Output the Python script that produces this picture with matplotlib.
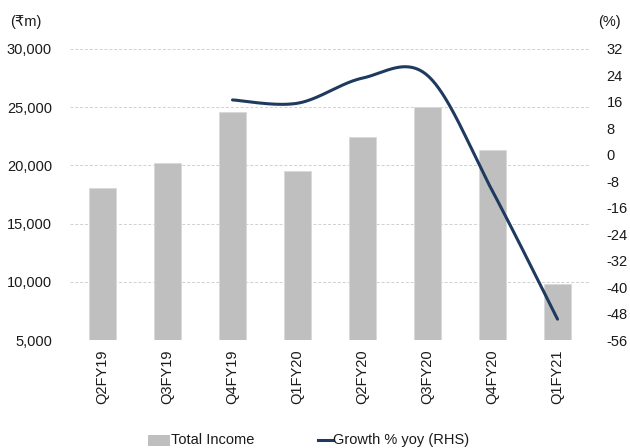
import numpy as np
import matplotlib
matplotlib.use("Agg")
import matplotlib.pyplot as plt
from matplotlib import font_manager
from matplotlib.patches import Rectangle
from matplotlib.lines import Line2D

categories = ["Q2FY19", "Q3FY19", "Q4FY19", "Q1FY20", "Q2FY20", "Q3FY20", "Q4FY20", "Q1FY21"]
total_income = [18100, 20200, 24600, 19500, 22450, 25000, 21300, 9800]
growth_idx = [2, 3, 4, 5, 6, 7]
growth_yoy = [16.6, 15.6, 23.2, 24.0, -11.0, -49.7]
left_ticks = [5000, 10000, 15000, 20000, 25000, 30000]
right_ticks = [32, 24, 16, 8, 0, -8, -16, -24, -32, -40, -48, -56]

names = {f.name for f in font_manager.fontManager.ttflist}
main = "Liberation Sans Narrow" if "Liberation Sans Narrow" in names else "Liberation Sans"
fam = [main, "DejaVu Sans"]
plt.rcParams["font.family"] = fam
plt.rcParams["axes.unicode_minus"] = False

BAR = "#bfbfbf"
LINE = "#1f3a5f"
TXT = "#1a1a1a"
FS = 10.5

fig = plt.figure(figsize=(6.3, 4.48), dpi=100)
ax = fig.add_axes([70/630, 1-340/448, 520/630, 291/448])
ax2 = ax.twinx()

x = np.arange(len(categories))
ax.bar(x, total_income, width=0.42, color=BAR, zorder=2, edgecolor="#d9d9d9", linewidth=0.6)
ax.set_xlim(-0.5, len(categories) - 0.5)
ax.set_ylim(5000, 30000)
ax.set_yticks(left_ticks)
ax.set_yticklabels([f"{v:,}" for v in left_ticks])
ax.grid(axis="y", color="#d0d0d0", linestyle=(0, (3, 2)), linewidth=0.7, zorder=0)
ax.set_axisbelow(True)
ax.set_xticks(x)
ax.set_xticklabels(categories, rotation=90, fontsize=FS, color=TXT)
ax.tick_params(axis="both", length=0, labelsize=FS, colors=TXT)
ax.tick_params(axis="x", pad=7)
ax.tick_params(axis="y", pad=13)

# Excel-style smoothed line (Bezier through the data points)
px = np.array(growth_idx, dtype=float)
py = np.array(growth_yoy, dtype=float)
xs, ys = [], []
n = len(px)
for i in range(n - 1):
    p0 = np.array([px[i], py[i]])
    p3 = np.array([px[i+1], py[i+1]])
    pm = np.array([px[i-1], py[i-1]]) if i > 0 else p0
    pn = np.array([px[i+2], py[i+2]]) if i + 2 < n else p3
    c1 = p0 + (p3 - pm) / 6
    c2 = p3 - (pn - p0) / 6
    t = np.linspace(0, 1, 40)[:, None]
    seg = (1-t)**3*p0 + 3*(1-t)**2*t*c1 + 3*(1-t)*t**2*c2 + t**3*p3
    xs.extend(seg[:, 0]); ys.extend(seg[:, 1])
ax2.plot(xs, ys, color=LINE, linewidth=2.2, solid_capstyle="round", zorder=3)
ax2.set_ylim(-56, 32)
ax2.set_yticks(right_ticks)
ax2.tick_params(axis="y", length=0, labelsize=FS, colors=TXT, pad=12)

for a in (ax, ax2):
    for s in a.spines.values():
        s.set_visible(False)

fig.text(10/630, 1-22/448, "(₹m)", fontsize=FS, color=TXT, va="center", ha="left")
fig.text(621/630, 1-22/448, "(%)", fontsize=FS, color=TXT, va="center", ha="right")

# legend
fig.patches.append(Rectangle((148/630, 1-446/448), 22/630, 11/448, transform=fig.transFigure,
                             facecolor=BAR, edgecolor="none"))
fig.text(171/630, 1-440/448, "Total Income", fontsize=FS, color=TXT, va="center", ha="left")
fig.lines.append(Line2D([318/630, 333/630], [1-440/448, 1-440/448], transform=fig.transFigure,
                        color=LINE, linewidth=2.2))
fig.text(333/630, 1-440/448, "Growth % yoy (RHS)", fontsize=FS, color=TXT, va="center", ha="left")

fig.savefig("out.png", dpi=100)
